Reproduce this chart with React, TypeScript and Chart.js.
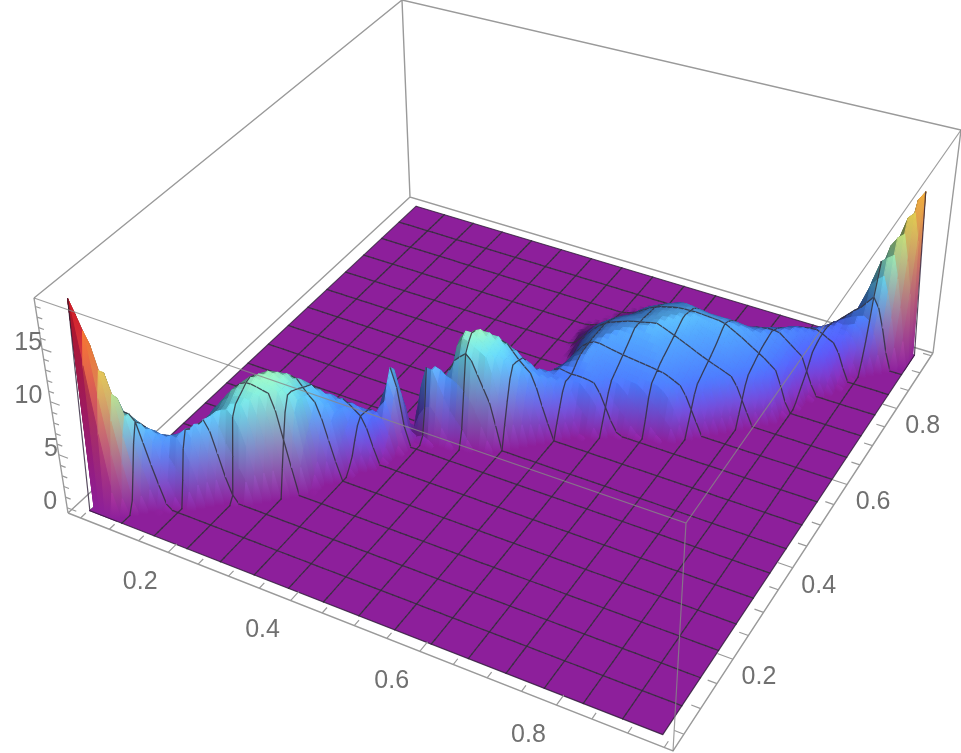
import React, { useEffect, useRef } from "react";
import { Chart, registerables, ScatterController } from "chart.js";

// ---- values, one entry per station along the ridge ----
const frontEdge = [1.9,1.7,1.7,2,2.2,3,3,3,4,4,4,4,3,3,2,2,1,0,-1,0,1,2,3,3,3,3,3,3,4,4,5,6,7,7,7,7,7,7,7,6,5,4,4,3,2,2,1.8,1.8,1.9];
const wallHeight = [19.8,13.5,8.5,6.5,5.5,6.5,7,7.5,8,8.5,8.8,8,6.8,5.8,4.6,3.8,3.4,7.5,0,7,5.5,8,7.6,7,6,5,4.4,4,4,3.9,3.9,4,4,3.8,3.7,3.8,3.8,3.6,3.4,3.3,3.2,3.1,3,3,3.4,4.5,8,11.5,15];
const crestHeight = [19.8,13.5,8.5,6.5,5.2,5,5.5,6.8,8.6,9.4,9.6,9,7.6,6.4,5.2,4.2,3.4,7.5,0,7,5.6,9.4,9.4,8.4,6.8,5.2,4.4,4.4,5.3,5.6,6,6.3,6.6,6.8,6.8,6.6,6.4,6,5.4,5,4.6,4.2,3.9,3.6,3.6,5,9,12,15];
const backWidth = [3.5,3.5,4,5,6,7,8,9,10,10,10,10,9,8,7,6,4,3.4,2.5,3.4,3.4,7,9,9,9,7,8,10,13,17,21,23,24,25,25,25,20,18,16,14,12,11,10,9,8,6,5,4,3.5];
const fallShape = [1,0.96,0.88,0.75,0.58,0.4,0.22,0.08,0];

const xTicks = [0.05,0.1,0.15,0.2,0.25,0.3,0.35,0.4,0.45,0.5,0.55,0.6,0.65,0.7,0.75,0.8,0.85,0.9,0.95];
const yTicks = [0.05,0.1,0.15,0.2,0.25,0.3,0.35,0.4,0.45,0.5,0.55,0.6,0.65,0.7,0.75,0.8,0.85,0.9,0.95];
const zTicks = [0,1,2,3,4,5,6,7,8,9,10,11,12,13,14,15,16,17,18,19];
const xLabels = ["0.2","0.4","0.6","0.8"];
const yLabels = ["0.2","0.4","0.6","0.8"];
const zLabels = ["0","5","10","15"];

// ---- plot ranges and mesh ----
const xBox = [0.028, 0.962];
const yBox = [0.018, 0.958];
const zBox = [-0.5, 19.8];
const xFloor = [0.06, 0.943];
const yFloor = [0.028, 0.925];
const SUB = 6;
const CELLS = 16;
const STEPS = CELLS*SUB;
const RAMP = 1.8;

// ---- camera: where the box corners fall on the page (left, front, right, back) ----
const camBottom = [[68,513],[673,751],[933,353],[410,197]];
const camTop = [[34,298],[686,523],[961,130],[402,0]];

function squareHomography(q: number[][]) {
  const [[x0,y0],[x1,y1],[x2,y2],[x3,y3]] = q;
  const dx1=x1-x2, dx2=x3-x2, sx=x0-x1+x2-x3;
  const dy1=y1-y2, dy2=y3-y2, sy=y0-y1+y2-y3;
  const den=dx1*dy2-dx2*dy1;
  const g=(sx*dy2-dx2*sy)/den, h=(dx1*sy-sx*dy1)/den;
  const a=x1-x0+g*x1, b=x3-x0+h*x3, d=y1-y0+g*y1, e=y3-y0+h*y3;
  return (u:number,v:number)=>{ const w=g*u+h*v+1; return [(a*u+b*v+x0)/w,(d*u+e*v+y0)/w]; };
}
const hBottom = squareHomography(camBottom);
const hTop = squareHomography(camTop);
function project(x:number,y:number,z:number){
  const u=(x-xBox[0])/(xBox[1]-xBox[0]), v=(y-yBox[0])/(yBox[1]-yBox[0]);
  const w=(z-zBox[0])/(zBox[1]-zBox[0]);
  const p=hBottom(u,v), q=hTop(u,v);
  return { x:p[0]+(q[0]-p[0])*w, y:p[1]+(q[1]-p[1])*w };
}

const colorStops:[number,number[]][] = [
  [0,[141,31,155]],[1,[118,45,190]],[2.5,[85,70,228]],[4,[70,115,242]],[6,[76,155,250]],[8,[100,210,225]],
  [10,[165,235,165]],[12.5,[215,215,90]],[15,[245,175,60]],[17,[240,100,45]],[19.8,[205,25,35]],
];
function mapColor(z:number){
  for(let n=0;n<colorStops.length-1;n++){
    const [a,ca]=colorStops[n],[b,cb]=colorStops[n+1];
    if(z<=b){const t=Math.max(0,(z-a)/(b-a)); return ca.map((c,q)=>c+(cb[q]-c)*t);}
  }
  return colorStops[colorStops.length-1][1];
}
const tableAt=(tab:number[],s:number)=>{const n=Math.max(0,Math.min(tab.length-2,Math.floor(s))),f=s-n;return tab[n]+(tab[n+1]-tab[n])*Math.max(0,Math.min(1,f));};

// height and vertex colour of one grid vertex, looked up in the tables above
function vertexAt(i:number,j:number){
  const flat={z:0,c:colorStops[0][1]};
  if(i===0||j===0||i===STEPS||j===STEPS) return flat;
  const raw=(i+j)/2*3/SUB, s=(raw-0.5)*48/47, k=(i-j)*3/SUB;
  const r=tableAt(frontEdge,s)-k, W=Math.max(RAMP+0.5,tableAt(backWidth,s));
  const wall=tableAt(wallHeight,s), crest=tableAt(crestHeight,s);
  if(r<=0||r>=W) return flat;
  if(r<RAMP){
    const f=r/RAMP, top=mapColor(wall), c=colorStops[0][1].map((p,q)=>p+(top[q]-p)*f);
    return {z:wall*f,c};
  }
  const t=(r-RAMP)/(W-RAMP);
  let z:number;
  if(t<=0.3) z=wall+(crest-wall)*t/0.3;
  else z=crest*tableAt(fallShape,(t-0.3)/0.7*(fallShape.length-1));
  return {z,c:mapColor(z)};
}
const css=(c:number[],shade:number)=>`rgb(${c.map(v=>Math.min(255,Math.round(v*shade))).join(",")})`;

class SurfaceController extends ScatterController {
  static id="surface";
  static defaults=ScatterController.defaults;
  draw(){
    const meta=this.getMeta(), ctx=this.chart.ctx, pts:any[]=meta.data as any, raw:any[]=(this.getDataset() as any).data;
    ctx.save(); ctx.lineJoin="round"; ctx.lineCap="round";
    // the flat floor as one piece, so that its cells leave no seams
    const corner=(i:number,j:number,n:number)=>pts[(i*STEPS+(STEPS-1-j))*4+n];
    const F=[corner(0,0,0),corner(STEPS-1,0,1),corner(STEPS-1,STEPS-1,2),corner(0,STEPS-1,3)];
    ctx.beginPath(); ctx.moveTo(F[0].x,F[0].y); for(let n=1;n<4;n++) ctx.lineTo(F[n].x,F[n].y); ctx.closePath();
    ctx.fillStyle=css(colorStops[0][1],1); ctx.fill();
    const outline="rgba(45,30,55,0.8)";
    ctx.beginPath(); ctx.moveTo(F[0].x,F[0].y); ctx.lineTo(F[3].x,F[3].y); ctx.lineTo(F[2].x,F[2].y);
    ctx.strokeStyle=outline; ctx.lineWidth=1.1; ctx.stroke();
    for(let q=0;q<pts.length;q+=4){
      const P=[pts[q],pts[q+1],pts[q+2],pts[q+3]], R=[raw[q],raw[q+1],raw[q+2],raw[q+3]], Z=R.map(r=>r.z);
      const lo=Z.indexOf(Math.min(...Z)), hi=Z.indexOf(Math.max(...Z));
      if(Z[hi]>0){
        const sc=SUB/3;
        const dzi=((Z[1]-Z[0])+(Z[2]-Z[3]))/2*sc, dzj=((Z[3]-Z[0])+(Z[2]-Z[1]))/2*sc;
        const len=Math.hypot(dzi,dzj,1);
        const d=(-dzi*0.6+dzj*0.4+0.69)/len-0.69;
        const shade=Math.max(0.55,Math.min(1.1,1+(d<0?0.85:0.5)*d));
        let fill:any;
        if(Z[hi]-Z[lo]<0.02) fill=css(R[hi].c,shade);
        else {
          fill=ctx.createLinearGradient(P[lo].x,P[lo].y,P[hi].x,P[hi].y);
          fill.addColorStop(0,css(R[lo].c,Z[lo]<0.05?1:shade));
          fill.addColorStop(1,css(R[hi].c,shade));
        }
        ctx.beginPath(); ctx.moveTo(P[0].x,P[0].y);
        for(let n=1;n<4;n++) ctx.lineTo(P[n].x,P[n].y);
        ctx.closePath(); ctx.fillStyle=fill; ctx.strokeStyle=fill; ctx.lineWidth=1; ctx.fill(); ctx.stroke();
      }
      const {i,j}=raw[q];
      const edges:number[][]=[];
      if((j+1)%SUB===0&&j+1<STEPS) edges.push([2,3]);
      if(i%SUB===0&&i>0) edges.push([0,3]);
      if(edges.length){
        ctx.beginPath();
        for(const [a,b] of edges){ctx.moveTo(P[a].x,P[a].y);ctx.lineTo(P[b].x,P[b].y);}
        ctx.strokeStyle="rgba(50,48,58,0.85)"; ctx.lineWidth=1.3; ctx.stroke();
      }
    }
    // dark outline along the front of the surface and up the two corner peaks
    const peakL=corner(0,0,2), peakR=corner(STEPS-1,STEPS-1,0);
    ctx.beginPath();
    ctx.moveTo(peakL.x,peakL.y); ctx.lineTo(F[0].x,F[0].y); ctx.lineTo(F[1].x,F[1].y); ctx.lineTo(F[2].x,F[2].y); ctx.lineTo(peakR.x,peakR.y);
    ctx.strokeStyle=outline; ctx.lineWidth=1.2; ctx.stroke();
    ctx.restore();
  }
}
Chart.register(...registerables, SurfaceController as any);

function surfacePoints(){
  const gx=(i:number)=>xFloor[0]+(xFloor[1]-xFloor[0])*i/STEPS;
  const gy=(j:number)=>yFloor[0]+(yFloor[1]-yFloor[0])*j/STEPS;
  const out:any[]=[];
  const v=(i:number,j:number,ci:number,cj:number)=>{const {z,c}=vertexAt(i,j);const p=project(gx(i),gy(j),z);return {x:p.x,y:p.y,z,c,i:ci,j:cj};};
  for(let i=0;i<STEPS;i++) for(let j=STEPS-1;j>=0;j--){
    out.push(v(i,j,i,j),v(i+1,j,i,j),v(i+1,j+1,i,j),v(i,j+1,i,j));
  }
  return out;
}
function segs(list:[number,number,number][][]){
  const out:any[]=[];
  list.forEach((s,n)=>{ if(n) out.push({x:null,y:null}); s.forEach(p=>{const q=project(p[0],p[1],p[2]);out.push({x:q.x,y:q.y});}); });
  return out;
}
const [x0,x1]=xBox,[y0,y1]=yBox,[z0,z1]=zBox;
const backEdges=segs([[[x0,y0,z0],[x0,y1,z0],[x1,y1,z0]],[[x0,y1,z0],[x0,y1,z1]],[[x0,y0,z1],[x0,y1,z1],[x1,y1,z1]],[[x0,y0,z0],[x0,y0,z1]],[[x1,y1,z0],[x1,y1,z1]],[[x0,y0,z0],[x1,y0,z0],[x1,y1,z0]]]);
const frontEdges=segs([[[x0,y0,z1],[x1,y0,z1],[x1,y1,z1]],[[x1,y0,z0],[x1,y0,z1]]]);
const isMajorXY=(t:number)=>Math.abs(t*5-Math.round(t*5))<1e-6;
const tickSegs=segs([
  ...xTicks.map(t=>[[t,y0,z0],[t,y0+(isMajorXY(t)?0.02:0.012),z0]] as [number,number,number][]),
  ...yTicks.map(t=>[[x1,t,z0],[x1-(isMajorXY(t)?0.022:0.013),t,z0]] as [number,number,number][]),
  ...zTicks.map(t=>[[x0,y0,t],[x0+(t%5===0?0.016:0.009),y0,t]] as [number,number,number][]),
]);
const zNudge=[-10,-1,-8,0];

const labelPlugin={
  id:"axisText",
  afterDraw(chart:any){
    const {ctx,scales:{x,y}}=chart;
    ctx.save(); ctx.fillStyle="#707070"; ctx.font='25px "Liberation Sans"'; ctx.textBaseline="middle"; ctx.textAlign="center";
    const at=(p:{x:number,y:number})=>[x.getPixelForValue(p.x),y.getPixelForValue(p.y)];
    xLabels.forEach(l=>{const [a,b]=at(project(+l,y0,z0));ctx.fillText(l,a-28,b+30);});
    yLabels.forEach(l=>{const [a,b]=at(project(x1,+l,z0));ctx.fillText(l,a+26,b+18);});
    ctx.textAlign="right";
    zLabels.forEach((l,n)=>{const [a,b]=at(project(x0,y0,+l));ctx.fillText(l,a+zNudge[n],b-6);});
    ctx.restore();
  },
};

export default function App(){
  const ref=useRef<HTMLCanvasElement>(null);
  useEffect(()=>{
    document.body.style.margin="0";
    const line=(data:any[],color:string,width:number,order:number)=>({type:"scatter",data,showLine:true,spanGaps:false,borderColor:color,borderWidth:width,pointRadius:0,order});
    const chart=new Chart(ref.current!,{
      type:"scatter",
      data:{datasets:[
        line(frontEdges,"rgba(135,135,135,0.8)",1.2,0),
        line(tickSegs,"#9a9a9a",1.2,1),
        {type:"surface",data:surfacePoints(),pointRadius:0,order:2} as any,
        line(backEdges,"#9a9a9a",1.4,3),
      ] as any},
      options:{
        animation:false,responsive:false,events:[],
        layout:{padding:0},
        plugins:{legend:{display:false},tooltip:{enabled:false}},
        scales:{
          x:{type:"linear",min:0,max:961,display:false},
          y:{type:"linear",min:0,max:753,reverse:true,display:false},
        },
      } as any,
      plugins:[labelPlugin],
    });
    return ()=>chart.destroy();
  },[]);
  return <div style={{width:961,height:753}}><canvas ref={ref} width={961} height={753} style={{display:"block"}}/></div>;
}
